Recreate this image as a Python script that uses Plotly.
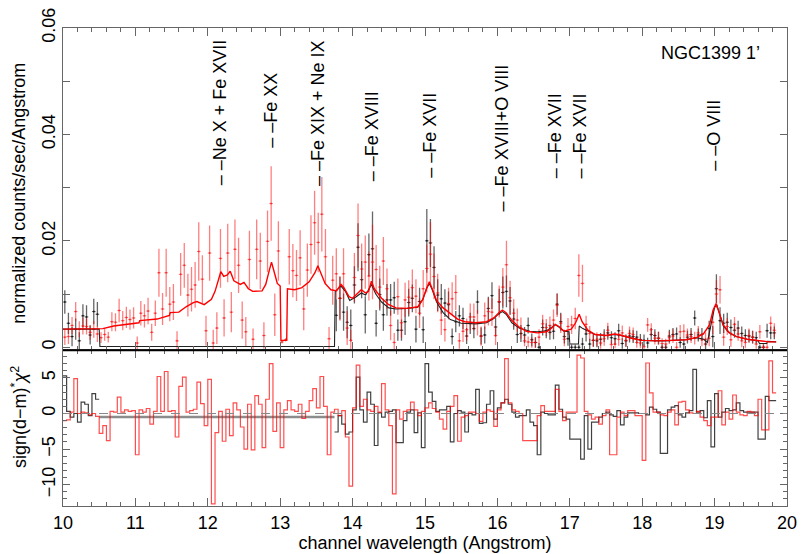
import numpy as np
import plotly.graph_objects as go

BIN = 0.05  # Angstrom, width of one spectral channel

# ---- red spectrum (10.0 - 19.85 A), flux in 1e-3 counts/sec/Angstrom ----
red_flux_e3 = [
    1.9, 2.0, 4.1, 6.7, 3.4, 4.0, 3.9, 2.8, 3.4, 2.5,
    1.8, 2.4, 1.9, 4.8, 4.7, 6.9, 5.0, 5.6, 5.2, 5.5,
    0.8, 6.4, 5.9, 6.8, 2.8, 6.4, 14.0, 7.2, 14.0, 8.1,
    8.5, 1.2, 13.7, 15.4, 9.8, 10.9, 11.7, 18.0, 12.8, 3.1,
    17.7, 0.8, 3.6, 16.7, 5.5, 17.7, 6.6, 18.4, 15.4, 5.1,
    2.9, 16.5, 1.5, 18.4, 16.2, 2.2, 19.9, 27.0, 6.1, 18.1,
    1.0, 1.4, 17.0, 14.4, 13.5, 16.8, 7.2, 14.5, 19.3, 23.4,
    19.7, 25.0, 17.0, 1.6, 12.6, 13.8, 9.2, 13.8, 3.6, 1.3,
    13.1, 21.0, 14.7, 16.0, 13.4, 16.0, 14.6, 11.3, 16.2, 11.0,
    4.1, 0.9, 9.5, 4.6, 8.9, 9.4, 11.2, 9.6, 6.4, 11.0,
    14.8, 17.5, 13.3, 10.2, 5.1, 3.3, 8.2, 9.1, 10.3, 1.2,
    3.0, 3.3, 5.7, 5.7, 4.6, 2.1, 5.9, 6.7, 6.6, 2.2,
    8.6, 11.3, 15.5, 9.3, 6.4, 5.1, 3.6, 1.2, 1.0, 0.9,
    0.9, 1.9, 4.4, 3.7, 4.1, 5.1, 7.9, 4.5, 1.5, 3.9,
    4.2, 5.4, 13.5, 12.0, 4.3, 2.6, 1.3, 1.5, 0.8, 1.6,
    3.2, 0.5, 0.6, 1.5, 2.7, 1.3, 2.6, 2.4, 0.9, 0.8,
    0.1, 4.2, 3.3, 1.7, 1.7, 0.7, 0.6, 1.8, 2.1, 0.0,
    2.9, 3.0, 2.3, 2.0, 1.7, 2.7, 1.4, 1.5, 1.7, 4.7,
    10.0, 10.8, 1.9, 3.9, 1.4, 4.3, 2.5, 1.2, 0.9, 2.2,
    1.9, 0.6, 2.9, 0.0, 0.0, 4.5, 3.2,
]
red_err_e3 = [
    1.5, 1.4, 1.6, 1.8, 1.5, 1.6, 1.5, 1.4, 1.6, 1.5,
    1.0, 1.2, 1.0, 1.8, 1.7, 2.2, 1.8, 2.0, 1.9, 2.0,
    1.2, 2.3, 2.2, 2.5, 1.6, 2.4, 4.5, 3.0, 4.5, 3.2,
    3.4, 1.8, 4.0, 4.2, 4.0, 4.2, 4.3, 5.5, 4.5, 2.8,
    5.2, 2.5, 3.0, 5.5, 3.5, 5.5, 3.8, 5.6, 5.2, 3.5,
    2.8, 5.4, 2.0, 5.6, 5.3, 2.5, 5.8, 7.0, 4.0, 5.6,
    0.3, 0.3, 5.2, 5.0, 4.8, 5.2, 4.0, 5.0, 5.5, 6.0,
    5.6, 7.0, 5.2, 2.2, 4.6, 4.8, 4.2, 4.8, 3.2, 2.0,
    4.6, 6.0, 4.8, 5.0, 4.6, 7.0, 4.6, 4.0, 4.5, 3.8,
    2.8, 1.8, 3.4, 2.8, 3.2, 3.2, 3.4, 3.2, 2.8, 3.5,
    4.5, 6.0, 4.3, 3.6, 2.8, 2.2, 3.0, 3.1, 3.3, 1.5,
    2.0, 2.1, 2.5, 2.5, 2.4, 1.8, 2.5, 2.6, 2.6, 1.8,
    3.0, 3.6, 4.5, 3.2, 2.6, 2.2, 2.0, 1.0, 1.0, 1.0,
    1.0, 1.5, 1.7, 1.6, 1.7, 2.0, 2.2, 1.8, 1.3, 1.6,
    1.7, 2.0, 4.0, 3.5, 1.6, 1.4, 1.2, 1.3, 1.1, 1.3,
    1.4, 0.8, 0.8, 1.2, 1.4, 1.2, 1.3, 1.3, 1.0, 1.0,
    0.5, 1.3, 1.2, 1.2, 1.2, 1.0, 1.0, 1.2, 1.3, 1.0,
    1.3, 1.3, 1.2, 1.2, 1.2, 1.3, 1.2, 1.3, 1.5, 2.2,
    2.6, 2.6, 1.6, 1.6, 1.3, 1.4, 1.3, 1.2, 1.1, 1.3,
    1.2, 0.9, 1.3, 0.8, 0.8, 1.3, 1.3,
]
red_resid = [
    -1.0, -0.9, 0.2, 4.9, 0.0, 0.2, 0.1, -0.2, 0.0, -0.4,
    -2.8, -1.7, -3.8, 0.3, 0.2, 2.3, 0.2, 0.5, 0.3, 0.4,
    -5.8, 0.5, 0.2, 0.7, -1.5, 0.3, 5.2, 0.3, 5.9, 0.3,
    0.4, -3.3, 3.8, 5.1, 0.2, 0.4, 0.6, 4.4, 1.4, -1.7,
    4.8, -12.7, -2.7, 0.3, -3.9, 0.6, -3.1, 1.5, 0.5, -1.9,
    -5.0, 1.3, -5.1, 2.5, 1.3, -4.8, 2.0, 7.0, -2.5, 1.5,
    -4.8, 0.5, 1.8, 0.5, 0.3, 1.3, -0.7, 0.3, 1.8, 3.5,
    0.8, 5.2, 1.0, -5.8, 0.2, 0.6, -0.3, 0.4, -3.3, -10.2,
    0.8, 6.8, 1.0, 2.0, 0.5, 0.3, 1.0, 0.2, 4.2, 0.5,
    -1.7, -11.3, 0.5, -0.8, 0.3, 0.5, 1.6, 0.5, -0.3, 0.3,
    0.8, 1.5, 0.7, 0.2, -0.8, -2.2, 0.3, 1.0, 2.5, -3.9,
    -0.5, -0.3, 0.2, 0.2, 0.0, -1.1, 0.2, 0.5, 0.3, -1.8,
    0.5, 1.5, 7.7, 1.5, 0.5, 0.3, 0.0, -3.8, -3.8, -3.8,
    -3.8, -0.3, 1.1, 0.3, 0.3, 0.3, 3.4, 0.3, -1.0, 0.2,
    0.2, 0.2, 8.2, 7.8, 0.3, -0.2, -0.8, -0.5, -1.5, -0.3,
    0.5, -5.8, -5.8, -0.5, 0.2, -0.3, 0.4, 0.4, -0.3, -0.3,
    -6.6, 7.1, 2.9, 0.2, 0.2, -0.2, -0.3, 0.2, 0.5, -1.6,
    1.6, 1.7, 0.5, 0.1, 0.0, 0.3, -0.5, -1.0, -1.7, -0.5,
    -0.5, 3.2, -1.6, 0.2, -0.8, 2.6, 0.2, -0.2, -0.3, 0.3,
    0.2, -0.3, 2.0, -2.3, -2.3, 7.4, 2.9,
]

# ---- black spectrum: 10.0-10.5 A and 13.75-19.85 A ----
black_a_flux_e3 = [8.5, 4.5, 2.0, 3.4, 1.2, 5.9, 5.7, 2.3, 6.7, 6.2]
black_a_err_e3 = [2.2, 2.0, 1.8, 2.0, 1.6, 2.2, 2.2, 1.8, 2.4, 2.3]
black_a_resid = [5.3, 0.3, -0.5, 0.0, -1.2, 1.6, 1.3, -0.3, 2.8, 2.0]

black_b_start = 13.75
black_b_flux_e3 = [
    6.0, 9.2, 6.6, 4.7, 4.1,
    11.7, 18.8, 12.7, 6.1, 17.4, 18.5, 4.5, 9.9, 6.1, 8.9,
    8.9, 9.3, 3.2, 3.2, 4.8, 8.4, 9.2, 3.4, 8.6, 3.3,
    20.0, 19.6, 15.0, 9.8, 9.1, 8.3, 8.0, 2.0, 4.8, 5.9,
    5.4, 2.1, 4.5, 3.5, 8.5, 2.1, 2.3, 7.3, 9.7, 3.8,
    8.5, 10.3, 10.5, 8.7, 5.3, 2.4, 2.6, 2.3, 4.1, 1.4,
    0.9, 0.0, 3.7, 3.1, 2.8, 3.0, 8.1, 4.8, 2.0, 1.6,
    0.0, 0.0, 0.0, 0.6, 2.5, 0.6, 1.3, 1.2, 1.5, 2.2,
    2.7, 1.8, 1.6, 3.1, 0.7, 1.2, 2.1, 2.0, 1.9, 1.4,
    1.3, 0.8, 2.4, 2.2, 1.7, 0.0, 0.0, 2.1, 2.4, 2.5,
    0.9, 0.6, 1.9, 2.4, 5.5, 2.3, 2.4, 0.6, 3.5, 2.0,
    11.0, 5.0, 4.5, 4.7, 3.7, 3.2, 3.6, 2.6, 2.2, 2.1,
    1.9, 1.8, 0.0, 0.0, 3.1, 2.7, 2.7,
]
black_b_err_e3 = [
    3.0, 4.0, 3.5, 3.0, 3.0,
    3.5, 4.5, 3.5, 3.5, 4.0, 7.0, 2.5, 3.0, 3.0, 3.0,
    3.0, 3.0, 2.0, 2.0, 2.5, 2.6, 2.6, 2.5, 2.6, 2.5,
    6.0, 4.5, 4.0, 3.0, 2.8, 2.6, 2.5, 1.5, 2.0, 2.0,
    2.0, 1.5, 2.0, 1.8, 2.2, 1.6, 1.6, 2.2, 2.5, 1.8,
    2.5, 3.0, 3.0, 2.6, 2.0, 1.6, 1.6, 1.5, 1.5, 1.2,
    1.0, 0.8, 1.5, 1.4, 1.4, 1.5, 2.0, 1.7, 1.3, 1.3,
    0.5, 0.5, 0.5, 1.2, 1.4, 1.0, 1.2, 1.2, 1.2, 1.2,
    1.3, 1.2, 1.2, 1.3, 1.0, 1.1, 1.2, 1.2, 1.2, 1.1,
    1.1, 1.0, 1.2, 1.2, 1.2, 0.5, 0.5, 1.2, 1.2, 1.2,
    1.0, 1.0, 1.2, 1.2, 1.4, 1.2, 1.2, 1.0, 1.5, 2.0,
    2.7, 2.5, 1.8, 1.8, 1.5, 1.4, 1.4, 1.3, 1.2, 1.2,
    1.2, 1.1, 0.5, 0.5, 1.3, 1.2, 1.2,
]
black_b_resid = [
    -2.6, -0.3, -1.5, -2.9, -2.6,
    0.5, 5.1, 0.5, -1.2, 3.0, 1.3, -4.5, 0.1, -0.5, 0.2,
    0.3, 0.5, -4.1, -4.1, -1.0, 0.2, 0.5, -2.7, 0.1, -4.8,
    7.0, 3.0, 1.7, 0.3, 0.5, 0.5, 1.0, -4.0, 0.0, 0.4,
    0.2, -2.6, 0.0, -0.2, 3.4, -1.4, -1.3, 1.3, 3.2, -0.8,
    0.8, 1.5, 2.0, 1.3, 0.2, -0.5, -0.3, -0.3, 0.5, -1.2,
    -1.7, -5.8, 0.2, 0.0, -0.2, -0.2, 4.0, 0.6, -0.5, -0.8,
    -3.6, -3.6, -3.6, -6.4, -0.3, -5.0, -1.2, -1.2, -0.5, 0.0,
    0.2, -0.2, -0.4, 0.4, -1.6, -0.5, 0.1, 0.1, 0.1, 0.0,
    0.0, -0.2, 0.9, 0.6, 0.2, -5.6, -5.6, 0.5, 0.9, 1.1,
    -0.2, -0.5, 0.1, 0.4, 6.2, 0.2, 0.4, -0.6, 1.8, -4.7,
    2.8, -0.5, 0.2, 0.7, 0.4, 0.5, 1.5, 0.4, 0.2, 0.2,
    0.2, 0.2, -3.6, -3.6, 2.4, 1.8, 1.8,
]
black_gap = [10.5, 13.75]   # no black channels here
black_gap_resid = -0.48

# ---- folded models ----
red_model_wave = [
    10.00, 10.50, 10.55, 10.70, 10.90, 11.05, 11.06, 11.30, 11.47, 11.48,
    11.60, 11.70, 11.80, 11.85, 11.95, 12.05, 12.10, 12.15, 12.18, 12.22,
    12.27, 12.31, 12.36, 12.45, 12.50, 12.56, 12.62, 12.75, 12.80, 12.85,
    12.88, 12.92, 12.96, 13.00, 13.01, 13.09, 13.10, 13.20, 13.30, 13.40,
    13.48, 13.52, 13.56, 13.62, 13.70, 13.78, 13.84, 13.88, 13.95, 14.00,
    14.06, 14.12, 14.18, 14.22, 14.26, 14.30, 14.40, 14.50, 14.60, 14.75,
    14.90, 14.97, 15.02, 15.06, 15.10, 15.16, 15.25, 15.35, 15.45, 15.55,
    15.70, 15.85, 15.95, 16.02, 16.07, 16.12, 16.20, 16.30, 16.40, 16.55,
    16.68, 16.75, 16.80, 16.85, 16.92, 17.02, 17.08, 17.13, 17.17, 17.25,
    17.35, 17.50, 17.62, 17.70, 17.85, 18.00, 18.20, 18.40, 18.60, 18.75,
    18.85, 18.93, 18.98, 19.02, 19.06, 19.12, 19.20, 19.30, 19.45, 19.60,
    19.75, 19.85,
]
red_model_e3 = [
    3.4, 3.4, 3.5, 4.0, 4.4, 4.6, 5.0, 5.3, 6.0, 6.5,
    6.6, 7.6, 8.4, 8.6, 8.0, 9.0, 10.5, 13.0, 14.2, 13.3,
    13.6, 14.3, 12.5, 11.8, 12.2, 11.0, 10.5, 10.6, 11.8, 14.5,
    16.0, 14.0, 12.0, 11.5, 1.3, 1.3, 11.0, 10.8, 11.2, 12.3,
    14.0, 15.3, 14.0, 12.0, 10.8, 10.6, 11.8, 11.2, 9.5, 9.2,
    10.0, 10.8, 10.2, 10.5, 12.4, 11.0, 9.2, 8.0, 7.4, 7.3,
    7.6, 9.0, 11.0, 12.3, 11.0, 8.8, 7.4, 6.4, 5.3, 4.8,
    4.6, 4.8, 5.5, 6.5, 7.0, 6.5, 5.0, 3.8, 3.0, 2.7,
    2.9, 3.6, 4.3, 3.9, 3.0, 3.4, 4.6, 6.2, 4.8, 3.2,
    2.4, 2.2, 2.5, 2.3, 1.7, 1.3, 1.2, 1.3, 1.4, 1.8,
    2.6, 4.2, 7.0, 8.2, 6.5, 4.2, 2.8, 2.0, 1.5, 1.2,
    1.0, 1.0,
]
black_model_wave = [
    10.00, 10.50, 10.51, 13.75, 13.76, 13.84, 13.90, 13.96, 14.05, 14.12,
    14.18, 14.26, 14.32, 14.40, 14.50, 14.60, 14.75, 14.90, 14.97, 15.02,
    15.06, 15.10, 15.16, 15.25, 15.35, 15.50, 15.70, 15.85, 15.95, 16.02,
    16.07, 16.12, 16.20, 16.30, 16.45, 16.55, 16.68, 16.75, 16.80, 16.85,
    16.92, 16.99, 17.00, 17.12, 17.13, 17.18, 17.25, 17.35, 17.50, 17.62,
    17.70, 17.85, 18.00, 18.30, 18.60, 18.75, 18.85, 18.90, 18.95, 19.00,
    19.03, 19.07, 19.12, 19.20, 19.30, 19.45, 19.60, 19.62, 19.72, 19.73,
    19.85,
]
black_model_e3 = [
    3.4, 3.4, 0.15, 0.15, 10.5, 11.5, 10.5, 8.8, 9.5, 10.2,
    9.8, 11.8, 10.0, 8.5, 7.4, 7.2, 7.3, 7.5, 9.0, 11.0,
    12.0, 10.8, 8.5, 6.5, 5.2, 4.5, 4.4, 4.6, 5.4, 6.3,
    6.7, 6.2, 4.6, 3.6, 3.0, 2.9, 3.1, 3.7, 4.2, 3.8,
    3.0, 2.9, 0.6, 0.6, 4.0, 3.5, 3.0, 2.4, 2.2, 2.4,
    2.2, 1.7, 1.3, 1.2, 1.4, 1.8, 1.5, 0.9, 4.0, 7.5,
    8.0, 6.0, 4.0, 2.7, 2.0, 1.5, 1.2, 0.7, 0.7, 1.1,
    1.0,
]

line_ids = ["Ne X + Fe XVII", "Fe XX", "Fe XIX + Ne IX", "Fe XVIII", "Fe XVII",
            "Fe XVIII+O VIII", "Fe XVII", "Fe XVII", "O VIII"]
line_wave = [12.17, 12.88, 13.52, 14.26, 15.07, 16.06, 16.79, 17.14, 19.0]
line_label_y = [0.0301, 0.0371, 0.0299, 0.0309, 0.0314, 0.0252, 0.0314, 0.0314, 0.0328]

FONT = "Liberation Sans, Arial, Helvetica, sans-serif"
RED = "rgb(255,0,0)"
FRAME = "#666666"


def e3(vals):
    return np.array(vals) * 1e-3


def centres(start, n):
    return np.round(start + BIN * (np.arange(n) + 0.5), 4)


def steps(start, vals):
    edges = np.round(start + BIN * np.arange(len(vals) + 1), 4)
    return edges, list(vals) + [vals[-1]]


def data_trace(x, y, err, colour):
    return go.Scatter(
        x=x, y=e3(y), mode="markers", xaxis="x", yaxis="y",
        marker=dict(size=2, color=colour),
        error_x=dict(type="constant", value=BIN / 2, width=0, color=colour, thickness=1),
        error_y=dict(type="data", array=e3(err), width=0, color=colour, thickness=1.3),
        showlegend=False, hoverinfo="skip",
    )


fig = go.Figure()

# top panel: black then red data, with models
blk = "rgba(0,0,0,0.6)"
fig.add_trace(data_trace(centres(10.0, len(black_a_flux_e3)), black_a_flux_e3, black_a_err_e3, blk))
fig.add_trace(data_trace(centres(black_b_start, len(black_b_flux_e3)), black_b_flux_e3, black_b_err_e3, blk))
fig.add_trace(data_trace(centres(10.0, len(red_flux_e3)), red_flux_e3, red_err_e3, "rgba(255,0,0,0.5)"))
fig.add_trace(go.Scatter(x=black_model_wave, y=e3(black_model_e3), mode="lines",
                         line=dict(color="#222222", width=1.1), showlegend=False))
fig.add_trace(go.Scatter(x=red_model_wave, y=e3(red_model_e3), mode="lines",
                         line=dict(color=RED, width=1.4), showlegend=False))

# bottom panel: residual histograms
for start, vals in [(10.0, black_a_resid), (black_b_start, black_b_resid)]:
    sx, sy = steps(start, vals)
    fig.add_trace(go.Scatter(x=sx, y=sy, mode="lines", line_shape="hv", xaxis="x2", yaxis="y2",
                             line=dict(color="rgba(0,0,0,0.75)", width=1.2), showlegend=False))
fig.add_trace(go.Scatter(x=black_gap, y=[black_gap_resid] * 2, mode="lines", xaxis="x2", yaxis="y2",
                         line=dict(color="rgba(0,0,0,0.45)", width=2.5), showlegend=False))
sx, sy = steps(10.0, red_resid)
fig.add_trace(go.Scatter(x=sx, y=sy, mode="lines", line_shape="hv", xaxis="x2", yaxis="y2",
                         line=dict(color="rgba(255,0,0,0.7)", width=1.2), showlegend=False))

# line identifications
for name, wl, yy in zip(line_ids, line_wave, line_label_y):
    fig.add_annotation(x=wl, y=yy, xref="x", yref="y", text="\u2013 \u2013" + name,
                       textangle=-90, showarrow=False, xanchor="center", yanchor="bottom",
                       font=dict(family=FONT, size=18, color="black"))

fig.add_annotation(x=19.65, y=0.0553, xref="x", yref="y", text="NGC1399 1\u2019", showarrow=False,
                   xanchor="right", yanchor="middle", font=dict(family=FONT, size=18, color="black"))

# y titles placed by hand (just inside the figure's left edge)
fig.add_annotation(x=-0.061, y=0.655, xref="paper", yref="paper", textangle=-90, showarrow=False,
                   xanchor="center", yanchor="middle",
                   text="normalized counts/sec/Angstrom", font=dict(family=FONT, size=18, color="black"))
fig.add_annotation(x=-0.061, y=0.186, xref="paper", yref="paper", textangle=-90, showarrow=False,
                   xanchor="center", yanchor="middle",
                   text="sign(d\u2212m)<sup>*</sup><i>\u03c7</i><sup>2</sup>",
                   font=dict(family=FONT, size=18, color="black"))

# zero line of the residual panel and the panel boundary
fig.add_shape(type="line", xref="x2", yref="y2", x0=10, x1=20, y0=0, y1=0,
              line=dict(color="#888888", width=1, dash="dash"))
fig.add_shape(type="line", xref="paper", yref="paper", x0=0, x1=1, y0=0.326, y1=0.326,
              line=dict(color="black", width=2))

axis_common = dict(showline=True, linecolor=FRAME, linewidth=1, mirror="allticks", ticks="inside",
                   tickcolor=FRAME, showgrid=False, zeroline=False, automargin=False,
                   tickfont=dict(family=FONT, size=18, color="black"))

# the page body adds 8 px on the left and top, so the figure is 8 px smaller
fig.update_layout(
    width=804, height=546,
    margin=dict(l=55, r=25, t=20, b=48),
    paper_bgcolor="white", plot_bgcolor="white",
    xaxis=dict(domain=[0, 1], anchor="y", range=[10, 20], dtick=1, ticklen=8,
               showticklabels=False,
               minor=dict(dtick=0.2, ticklen=4, ticks="inside", tickcolor=FRAME),
               **axis_common),
    yaxis=dict(domain=[0.326, 1], anchor="x", range=[-0.00055, 0.06],
               tickvals=[0, 0.02, 0.04, 0.06], ticktext=["0", "0.02", "0.04", "0.06"],
               tickangle=-90, ticklen=7, ticklabeloverflow="allow",
               minor=dict(dtick=0.01, ticklen=7, ticks="inside", tickcolor=FRAME),
               **axis_common),
    xaxis2=dict(domain=[0, 1], anchor="y2", range=[10, 20], dtick=1, ticklen=8, matches="x",
                ticklabeloverflow="allow",
                minor=dict(dtick=0.2, ticklen=4, ticks="inside", tickcolor=FRAME),
                title=dict(text="channel wavelength (Angstrom)", standoff=2,
                           font=dict(family=FONT, size=18, color="black")),
                **axis_common),
    yaxis2=dict(domain=[0, 0.326], anchor="x2", range=[-13, 8.9], tickvals=[-10, -5, 0, 5],
                ticktext=["\u221210", "\u22125", "0", "5"], tickangle=-90, ticklen=7,
                ticklabeloverflow="allow",
                minor=dict(dtick=1, ticklen=4, ticks="inside", tickcolor=FRAME),
                **axis_common),
)

fig.write_html("out.html")
